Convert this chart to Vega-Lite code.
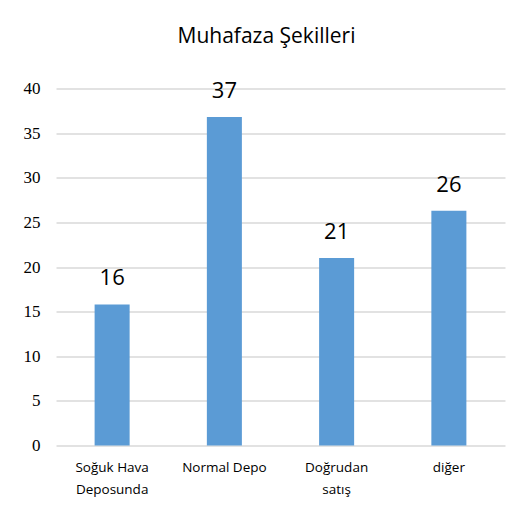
{
  "$schema": "https://vega.github.io/schema/vega-lite/v6.json",
  "autosize": "none",
  "width": 449,
  "height": 357,
  "padding": {"left": 56, "top": 88.5, "right": 25, "bottom": 76.5},
  "background": "white",
  "title": {
    "text": "Muhafaza Şekilleri",
    "fontSize": 21,
    "font": "Open Sans",
    "fontWeight": "normal",
    "color": "#000000",
    "anchor": "middle",
    "dx": -14,
    "offset": 33
  },
  "data": {
    "values": [
      {"kategori": "Soğuk Hava|Deposunda", "deger": 15.8, "etiket": "16"},
      {"kategori": "Normal Depo", "deger": 36.8, "etiket": "37"},
      {"kategori": "Doğrudan|satış", "deger": 21.0, "etiket": "21"},
      {"kategori": "diğer", "deger": 26.3, "etiket": "26"}
    ]
  },
  "encoding": {
    "x": {
      "field": "kategori",
      "type": "nominal",
      "sort": null,
      "scale": {"paddingInner": 0.688, "paddingOuter": 0.344},
      "axis": {
        "title": null,
        "labelAngle": 0,
        "labelExpr": "split(datum.label, '|')",
        "labelFont": "Open Sans",
        "labelFontSize": 13.5,
        "labelColor": "#000000",
        "labelLineHeight": 22,
        "labelPadding": 15,
        "ticks": false,
        "domain": false
      }
    },
    "y": {
      "field": "deger",
      "type": "quantitative",
      "scale": {"domain": [0, 40]},
      "axis": {
        "title": null,
        "values": [0, 5, 10, 15, 20, 25, 30, 35, 40],
        "labelFont": "Liberation Serif",
        "labelFontSize": 17,
        "labelColor": "#000000",
        "labelPadding": 16,
        "ticks": false,
        "domain": false,
        "gridColor": "#d9d9d9",
        "gridWidth": 1.3
      }
    }
  },
  "layer": [
    {"mark": {"type": "bar", "color": "#5B9BD5"}},
    {
      "mark": {"type": "text", "baseline": "alphabetic", "dy": -19, "fontSize": 22, "font": "Open Sans", "color": "#000000"},
      "encoding": {"text": {"field": "etiket"}}
    }
  ],
  "config": {"view": {"stroke": null}}
}
